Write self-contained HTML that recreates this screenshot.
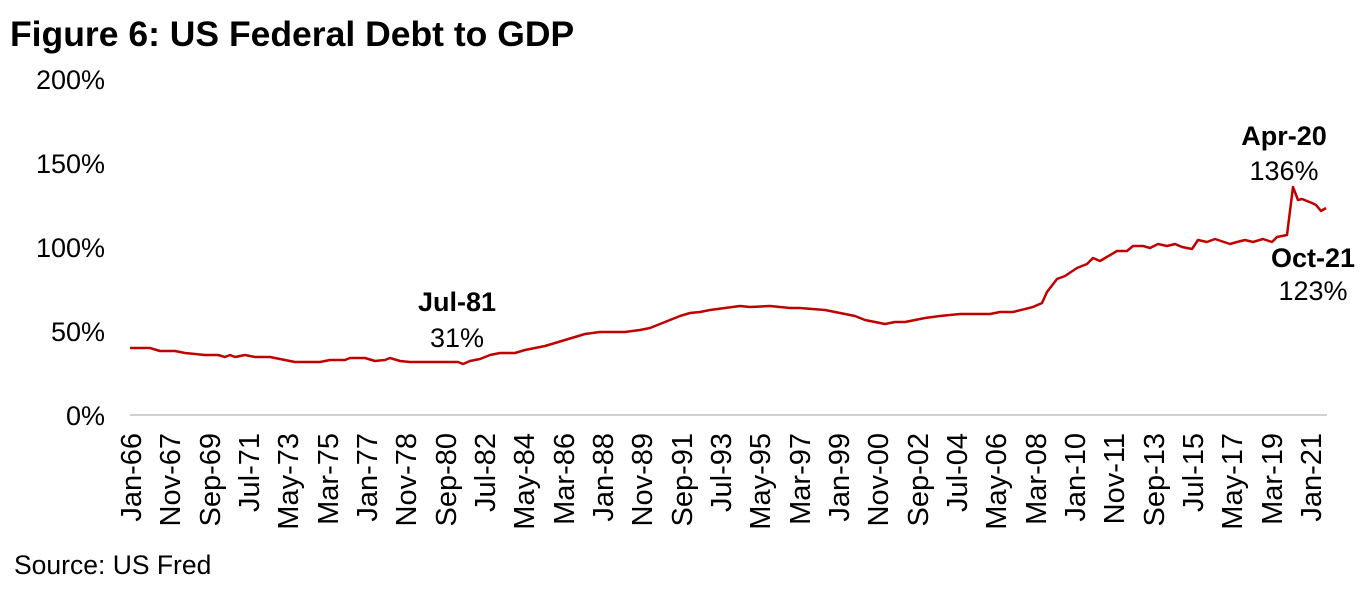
<!DOCTYPE html>
<html><head><meta charset="utf-8"><style>
body{margin:0;background:#fff;}
svg{display:block;font-family:"Liberation Sans",Arial,sans-serif;}
</style></head><body>
<svg width="1369" height="601" viewBox="0 0 1369 601">
<text x="10" y="46" font-size="35.5" font-weight="bold" fill="#000">Figure 6: US Federal Debt to GDP</text>
<g font-size="27" fill="#000" text-anchor="end">
<text x="105" y="89">200%</text>
<text x="105" y="173">150%</text>
<text x="105" y="257">100%</text>
<text x="105" y="341">50%</text>
<text x="105" y="425">0%</text>
</g>
<line x1="130" y1="415" x2="1327" y2="415" stroke="#d0d0d0" stroke-width="2"/>
<polyline fill="none" stroke="#c00000" stroke-width="2.5" stroke-linejoin="round" points="130,348 150,348 160,351 175,351 185,353 195,354 205,355 218,355 225,357 230,355 235,357 245,355 255,357 270,357 285,360 295,362 320,362 330,360 345,360 350,358 365,358 375,361 385,360 390,358 400,361 410,362 458,362 463,364 470,361 480,359 490,355 500,353 515,353 525,350 535,348 545,346 555,343 565,340 575,337 585,334 600,332 625,332 640,330 650,328 660,324 670,320 680,316 690,313 700,312 710,310 725,308 740,306 750,307 770,306 790,308 800,308 825,310 840,313 855,316 865,320 875,322 885,324 895,322 905,322 915,320 925,318 940,316 960,314 990,314 1000,312 1013,312 1033,307 1042,303 1047,292 1057,279 1065,276 1077,268 1087,264 1093,258 1100,261 1117,251 1127,251 1133,246 1143,246 1150,248 1158,244 1167,246 1175,244 1182,247 1192,249 1198,240 1207,242 1215,239 1230,244 1237,242 1245,240 1253,242 1263,239 1272,242 1277,237 1287,235 1293,187 1298,200 1302,199 1312,203 1316,205 1321,211 1326,208"/>
<g font-size="27" fill="#000" text-anchor="middle">
<text x="457" y="311" font-weight="bold">Jul-81</text>
<text x="457" y="347">31%</text>
<text x="1284" y="145" font-weight="bold">Apr-20</text>
<text x="1284" y="180">136%</text>
<text x="1313" y="267" font-weight="bold">Oct-21</text>
<text x="1313" y="300">123%</text>
</g>
<g font-size="29" fill="#000" text-anchor="end">
<text transform="translate(141,433) rotate(-90)">Jan-66</text>
<text transform="translate(180,433) rotate(-90)">Nov-67</text>
<text transform="translate(220,433) rotate(-90)">Sep-69</text>
<text transform="translate(259,433) rotate(-90)">Jul-71</text>
<text transform="translate(298,433) rotate(-90)">May-73</text>
<text transform="translate(338,433) rotate(-90)">Mar-75</text>
<text transform="translate(377,433) rotate(-90)">Jan-77</text>
<text transform="translate(416,433) rotate(-90)">Nov-78</text>
<text transform="translate(456,433) rotate(-90)">Sep-80</text>
<text transform="translate(495,433) rotate(-90)">Jul-82</text>
<text transform="translate(534,433) rotate(-90)">May-84</text>
<text transform="translate(574,433) rotate(-90)">Mar-86</text>
<text transform="translate(613,433) rotate(-90)">Jan-88</text>
<text transform="translate(652,433) rotate(-90)">Nov-89</text>
<text transform="translate(692,433) rotate(-90)">Sep-91</text>
<text transform="translate(731,433) rotate(-90)">Jul-93</text>
<text transform="translate(770,433) rotate(-90)">May-95</text>
<text transform="translate(810,433) rotate(-90)">Mar-97</text>
<text transform="translate(849,433) rotate(-90)">Jan-99</text>
<text transform="translate(888,433) rotate(-90)">Nov-00</text>
<text transform="translate(928,433) rotate(-90)">Sep-02</text>
<text transform="translate(967,433) rotate(-90)">Jul-04</text>
<text transform="translate(1006,433) rotate(-90)">May-06</text>
<text transform="translate(1046,433) rotate(-90)">Mar-08</text>
<text transform="translate(1085,433) rotate(-90)">Jan-10</text>
<text transform="translate(1124,433) rotate(-90)">Nov-11</text>
<text transform="translate(1164,433) rotate(-90)">Sep-13</text>
<text transform="translate(1203,433) rotate(-90)">Jul-15</text>
<text transform="translate(1242,433) rotate(-90)">May-17</text>
<text transform="translate(1282,433) rotate(-90)">Mar-19</text>
<text transform="translate(1321,433) rotate(-90)">Jan-21</text>
</g>
<text x="14" y="574" font-size="26.5" fill="#000">Source: US Fred</text>
</svg>
</body></html>
